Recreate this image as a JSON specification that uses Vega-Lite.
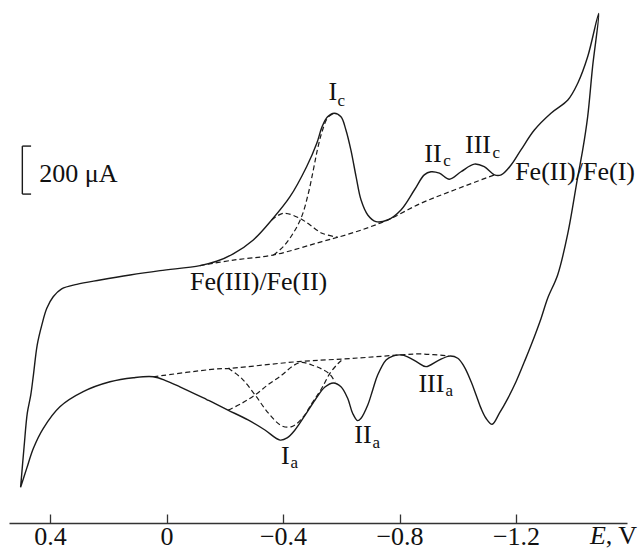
{
  "$schema": "https://vega.github.io/schema/vega-lite/v6.json",
  "width": 618,
  "height": 523,
  "autosize": {"type": "none"},
  "padding": {"left": 9, "top": 0, "right": 16, "bottom": 27},
  "background": "white",
  "config": {"view": {"stroke": null}},
  "datasets": {
    "cv": [
      {"s":1,"E":0.501,"I":-364},{"s":2,"E":0.489,"I":-195},{"s":3,"E":0.478,"I":-55},{"s":4,"E":0.466,"I":21},
      {"s":5,"E":0.457,"I":104},{"s":6,"E":0.444,"I":229},{"s":7,"E":0.428,"I":313},{"s":8,"E":0.411,"I":382},
      {"s":9,"E":0.389,"I":430},{"s":10,"E":0.360,"I":463},{"s":11,"E":0.308,"I":482},{"s":12,"E":0.228,"I":500},
      {"s":13,"E":0.125,"I":521},{"s":14,"E":0.022,"I":539},{"s":15,"E":-0.115,"I":560},{"s":16,"E":-0.172,"I":578},
      {"s":17,"E":-0.229,"I":609},{"s":18,"E":-0.298,"I":667},{"s":19,"E":-0.361,"I":750},{"s":20,"E":-0.424,"I":847},
      {"s":21,"E":-0.481,"I":972},{"s":22,"E":-0.516,"I":1070},{"s":23,"E":-0.534,"I":1138},{"s":24,"E":-0.553,"I":1180},
      {"s":25,"E":-0.576,"I":1195},{"s":26,"E":-0.599,"I":1180},{"s":27,"E":-0.616,"I":1125},{"s":28,"E":-0.633,"I":1042},
      {"s":29,"E":-0.651,"I":930},{"s":30,"E":-0.668,"I":833},{"s":31,"E":-0.691,"I":771},{"s":32,"E":-0.719,"I":743},
      {"s":33,"E":-0.759,"I":750},{"s":34,"E":-0.805,"I":792},{"s":35,"E":-0.851,"I":875},{"s":36,"E":-0.885,"I":938},
      {"s":37,"E":-0.908,"I":951},{"s":38,"E":-0.937,"I":945},{"s":39,"E":-0.971,"I":920},{"s":40,"E":-1.011,"I":951},
      {"s":41,"E":-1.057,"I":983},{"s":42,"E":-1.091,"I":972},{"s":43,"E":-1.126,"I":938},{"s":44,"E":-1.149,"I":938},
      {"s":45,"E":-1.183,"I":979},{"s":46,"E":-1.217,"I":1042},{"s":47,"E":-1.263,"I":1125},{"s":48,"E":-1.320,"I":1195},
      {"s":49,"E":-1.378,"I":1250},{"s":50,"E":-1.412,"I":1320},{"s":51,"E":-1.446,"I":1430},{"s":52,"E":-1.484,"I":1611},
      {"s":53,"E":-1.463,"I":1389},{"s":54,"E":-1.446,"I":1180},{"s":55,"E":-1.429,"I":1042},{"s":56,"E":-1.412,"I":930},
      {"s":57,"E":-1.378,"I":695},{"s":58,"E":-1.343,"I":521},{"s":59,"E":-1.309,"I":425},{"s":60,"E":-1.286,"I":340},
      {"s":61,"E":-1.252,"I":229},{"s":62,"E":-1.229,"I":160},{"s":63,"E":-1.200,"I":76},{"s":64,"E":-1.172,"I":7},
      {"s":65,"E":-1.143,"I":-55},{"s":66,"E":-1.118,"I":-101},{"s":67,"E":-1.097,"I":-76},{"s":68,"E":-1.080,"I":-35},
      {"s":69,"E":-1.063,"I":21},{"s":70,"E":-1.046,"I":76},{"s":71,"E":-1.022,"I":139},{"s":72,"E":-1.000,"I":174},
      {"s":73,"E":-0.971,"I":183},{"s":74,"E":-0.931,"I":163},{"s":75,"E":-0.891,"I":139},{"s":76,"E":-0.862,"I":157},
      {"s":77,"E":-0.828,"I":180},{"s":78,"E":-0.805,"I":188},{"s":79,"E":-0.777,"I":183},{"s":80,"E":-0.754,"I":167},
      {"s":81,"E":-0.725,"I":104},{"s":82,"E":-0.708,"I":42},{"s":83,"E":-0.691,"I":-21},{"s":84,"E":-0.668,"I":-76},
      {"s":85,"E":-0.656,"I":-86},{"s":86,"E":-0.639,"I":-55},{"s":87,"E":-0.622,"I":7},{"s":88,"E":-0.599,"I":55},
      {"s":89,"E":-0.573,"I":71},{"s":90,"E":-0.544,"I":54},{"s":91,"E":-0.510,"I":0},{"s":92,"E":-0.476,"I":-63},
      {"s":93,"E":-0.441,"I":-125},{"s":94,"E":-0.414,"I":-158},{"s":95,"E":-0.390,"I":-167},{"s":96,"E":-0.338,"I":-125},
      {"s":97,"E":-0.280,"I":-83},{"s":98,"E":-0.211,"I":-42},{"s":99,"E":-0.167,"I":-15},{"s":100,"E":-0.138,"I":2},
      {"s":101,"E":-0.046,"I":55},{"s":102,"E":-0.001,"I":79},{"s":103,"E":0.045,"I":97},{"s":104,"E":0.114,"I":93},
      {"s":105,"E":0.194,"I":76},{"s":106,"E":0.286,"I":35},{"s":107,"E":0.366,"I":-28},{"s":108,"E":0.423,"I":-118},
      {"s":109,"E":0.457,"I":-201},{"s":110,"E":0.480,"I":-285},{"s":111,"E":0.501,"I":-364}
    ],
    "fits": [
      {"c":"ub","s":1,"E":-0.115,"I":560},{"c":"ub","s":2,"E":-0.229,"I":583},{"c":"ub","s":3,"E":-0.366,"I":604},
      {"c":"ub","s":4,"E":-0.534,"I":660},{"c":"ub","s":5,"E":-0.588,"I":678},{"c":"ub","s":6,"E":-0.668,"I":708},
      {"c":"ub","s":7,"E":-0.759,"I":750},{"c":"ub","s":8,"E":-0.874,"I":820},{"c":"ub","s":9,"E":-0.988,"I":875},
      {"c":"ub","s":10,"E":-1.126,"I":938},
      {"c":"up1","s":1,"E":-0.361,"I":750},{"c":"up1","s":2,"E":-0.401,"I":778},{"c":"up1","s":3,"E":-0.458,"I":757},
      {"c":"up1","s":4,"E":-0.493,"I":729},{"c":"up1","s":5,"E":-0.534,"I":695},{"c":"up1","s":6,"E":-0.588,"I":678},
      {"c":"up2","s":1,"E":-0.367,"I":604},{"c":"up2","s":2,"E":-0.401,"I":639},{"c":"up2","s":3,"E":-0.435,"I":695},
      {"c":"up2","s":4,"E":-0.464,"I":764},{"c":"up2","s":5,"E":-0.487,"I":861},{"c":"up2","s":6,"E":-0.504,"I":958},
      {"c":"up2","s":7,"E":-0.518,"I":1042},{"c":"up2","s":8,"E":-0.534,"I":1118},{"c":"up2","s":9,"E":-0.555,"I":1179},
      {"c":"up2","s":10,"E":-0.576,"I":1195},
      {"c":"lb","s":1,"E":0.045,"I":97},{"c":"lb","s":2,"E":-0.167,"I":129},{"c":"lb","s":3,"E":-0.218,"I":132},
      {"c":"lb","s":4,"E":-0.453,"I":160},{"c":"lb","s":5,"E":-0.607,"I":171},{"c":"lb","s":6,"E":-0.716,"I":180},
      {"c":"lb","s":7,"E":-0.805,"I":188},{"c":"lb","s":8,"E":-0.874,"I":192},{"c":"lb","s":9,"E":-0.971,"I":183},
      {"c":"la","s":1,"E":-0.212,"I":-42},{"c":"la","s":2,"E":-0.258,"I":-14},{"c":"la","s":3,"E":-0.304,"I":21},
      {"c":"la","s":4,"E":-0.350,"I":65},{"c":"la","s":5,"E":-0.396,"I":104},{"c":"la","s":6,"E":-0.435,"I":143},
      {"c":"la","s":7,"E":-0.464,"I":157},{"c":"la","s":8,"E":-0.499,"I":146},{"c":"la","s":9,"E":-0.533,"I":129},
      {"c":"la","s":10,"E":-0.561,"I":107},{"c":"la","s":11,"E":-0.579,"I":74},
      {"c":"lk","s":1,"E":-0.212,"I":132},{"c":"lk","s":2,"E":-0.258,"I":90},{"c":"lk","s":3,"E":-0.304,"I":21},
      {"c":"lk","s":4,"E":-0.350,"I":-55},{"c":"lk","s":5,"E":-0.396,"I":-108},{"c":"lk","s":6,"E":-0.430,"I":-111},
      {"c":"lk","s":7,"E":-0.466,"I":-76},{"c":"lk","s":8,"E":-0.499,"I":-14},{"c":"lk","s":9,"E":-0.533,"I":49},
      {"c":"lk","s":10,"E":-0.561,"I":111},{"c":"lk","s":11,"E":-0.590,"I":153},{"c":"lk","s":12,"E":-0.607,"I":171}
    ],
    "scalebar": [
      {"E":0.495,"E2":0.495,"I":858,"I2":1058},
      {"E":0.495,"E2":0.465,"I":1058,"I2":1058},
      {"E":0.495,"E2":0.465,"I":858,"I2":858}
    ],
    "labels": [
      {"t":"I","E":-0.556,"I":1250},
      {"t":"II","E":-0.885,"I":993},
      {"t":"III","E":-1.025,"I":1028},
      {"t":"Fe(II)/Fe(I)","E":-1.197,"I":917},
      {"t":"Fe(III)/Fe(II)","E":-0.081,"I":458},
      {"t":"I","E":-0.393,"I":-268},
      {"t":"II","E":-0.645,"I":-180},
      {"t":"III","E":-0.865,"I":35},
      {"t":"200 μA","E":0.437,"I":910},
      {"t":", V","E":-1.508,"I":-600}
    ],
    "subs": [
      {"t":"c","E":-0.587,"I":1225},
      {"t":"c","E":-0.950,"I":975},
      {"t":"c","E":-1.119,"I":1008},
      {"t":"a","E":-0.426,"I":-283},
      {"t":"a","E":-0.707,"I":-200},
      {"t":"a","E":-0.958,"I":17}
    ],
    "axisname": [
      {"t":"E","E":-1.454,"I":-600}
    ]
  },
  "encoding": {
    "x": {"field":"E","type":"quantitative",
      "scale":{"domain":[-1.5811,0.5408],"reverse":true,"nice":false,"zero":false},
      "axis":{"orient":"bottom","values":[0.4,0,-0.4,-0.8,-1.2],"format":".1~f","title":null,"grid":false,
        "domainColor":"#333","domainWidth":1.3,"tickColor":"#333","tickWidth":1.3,"tickSize":-9,
        "labelFont":"Liberation Serif","labelFontSize":26,"labelColor":"#111","labelPadding":30,
        "labelBaseline":"alphabetic","labelFlush":false,"labelOverlap":false}},
    "y": {"field":"I","type":"quantitative","scale":{"domain":[-512.5,1666.7],"nice":false,"zero":false},"axis":null}
  },
  "layer": [
    {"data":{"name":"cv"},
     "mark":{"type":"line","color":"#1a1a1a","strokeWidth":1.4,"interpolate":"catmull-rom"},
     "encoding":{"order":{"field":"s","type":"quantitative"}}},
    {"data":{"name":"fits"},
     "mark":{"type":"line","color":"#1a1a1a","strokeWidth":1.2,"strokeDash":[5,3],"interpolate":"catmull-rom"},
     "encoding":{"detail":{"field":"c","type":"nominal"},"order":{"field":"s","type":"quantitative"}}},
    {"data":{"name":"scalebar"},
     "mark":{"type":"rule","color":"#1a1a1a","strokeWidth":1.4},
     "encoding":{"x2":{"field":"E2"},"y2":{"field":"I2"}}},
    {"data":{"name":"labels"},
     "mark":{"type":"text","font":"Liberation Serif","fontSize":26,"color":"#111","align":"left","baseline":"alphabetic"},
     "encoding":{"text":{"field":"t"}}},
    {"data":{"name":"subs"},
     "mark":{"type":"text","font":"Liberation Serif","fontSize":17,"color":"#111","align":"left","baseline":"alphabetic"},
     "encoding":{"text":{"field":"t"}}},
    {"data":{"name":"axisname"},
     "mark":{"type":"text","font":"Liberation Serif","fontSize":26,"fontStyle":"italic","color":"#111","align":"left","baseline":"alphabetic"},
     "encoding":{"text":{"field":"t"}}}
  ]
}
